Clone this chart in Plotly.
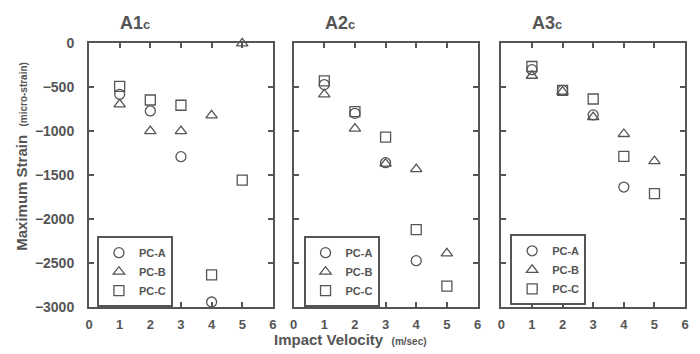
import plotly.graph_objects as go

velocity = [1, 2, 3, 4, 5]
panels = ["A1", "A2", "A3"]
series_names = ["PC-A", "PC-B", "PC-C"]

# Maximum strain values (micro-strain) per panel and series
a1_pca = [-580, -770, -1290, -2945, None]
a1_pcb = [-695, -1000, -1000, -820, 0]
a1_pcc = [-490, -645, -705, -2637, -1558]

a2_pca = [-470, -797, -1359, -2474, None]
a2_pcb = [-580, -970, -1370, -1431, -2391]
a2_pcc = [-427, -778, -1068, -2120, -2764]

a3_pca = [-300, -536, -815, -1636, None]
a3_pcb = [-369, -550, -840, -1032, -1341]
a3_pcc = [-264, -536, -634, -1286, -1710]

data = [[a1_pca, a1_pcb, a1_pcc], [a2_pca, a2_pcb, a2_pcc], [a3_pca, a3_pcb, a3_pcc]]
symbols = ["circle-open", "triangle-up-open", "square-open"]

W, H = 700, 354
col = "#555555"
font_fam = "Liberation Sans Narrow, Arial Narrow, Liberation Sans, Arial, sans-serif"

fig = go.Figure()
xdom = [(86, 272), (293, 479), (503, 689)]
ydom = ((H - 313) / H, (H - 37) / H)
legend_pos = [(94, 239), (303, 239), (512, 237)]

layout = dict(
    width=W, height=H, margin=dict(l=0, r=0, t=0, b=0),
    plot_bgcolor="white", paper_bgcolor="white",
    font=dict(family=font_fam, color=col, size=13),
    annotations=[],
)

for i in range(3):
    ax = "" if i == 0 else str(i + 1)
    lg = "legend" if i == 0 else "legend" + str(i + 1)
    for j in range(3):
        ys = data[i][j]
        xs = [v for v, y in zip(velocity, ys) if y is not None]
        yv = [y for y in ys if y is not None]
        fig.add_trace(go.Scatter(
            x=xs, y=yv, mode="markers", name=series_names[j],
            marker=dict(symbol=symbols[j], size=10,
                        color=col, line=dict(width=1.3, color=col)),
            xaxis="x" + ax, yaxis="y" + ax, legend=lg, cliponaxis=False,
        ))
    layout["xaxis" + ax] = dict(
        domain=[xdom[i][0] / W, xdom[i][1] / W], range=[0, 6], anchor="y" + ax,
        tickvals=[0, 1, 2, 3, 4, 5, 6], ticks="inside", ticklen=5, tickwidth=1.5,
        tickcolor=col, showline=True, linewidth=2, linecolor=col, mirror="ticks",
        showgrid=False, zeroline=False, ticklabelstandoff=5,
        tickfont=dict(family=font_fam, size=13, color=col, weight="bold"),
    )
    layout["yaxis" + ax] = dict(
        domain=list(ydom), range=[-3000, 0], anchor="x" + ax,
        tickvals=[0, -500, -1000, -1500, -2000, -2500, -3000],
        ticks="inside", ticklen=5, tickwidth=1.5, tickcolor=col,
        showline=True, linewidth=2, linecolor=col, mirror="ticks",
        showgrid=False, zeroline=False, showticklabels=(i == 0),
        ticklabelstandoff=10,
        tickfont=dict(family=font_fam, size=14, color=col, weight="bold"),
    )
    lx, ly = legend_pos[i]
    layout[lg] = dict(
        x=lx / W, y=(H - ly) / H, xanchor="left", yanchor="top",
        bordercolor=col, borderwidth=2, bgcolor="white",
        font=dict(family=font_fam, size=11, color=col, weight="bold"),
        tracegroupgap=0, itemwidth=30,
    )
    layout["annotations"].append(dict(
        x=1.5, y=(H - 16) / H, xref="x" + ax, yref="paper",
        text="<b>" + panels[i] + "<span style='font-size:13px'>c</span></b>",
        showarrow=False, font=dict(family=font_fam, size=18, color=col),
        xanchor="center", yanchor="middle",
    ))

layout["annotations"].append(dict(
    x=18 / W, y=(H - 155) / H, xref="paper", yref="paper", textangle=-90,
    text="<b>Maximum Strain</b>  <b><span style='font-size:10px'>(micro-strain)</span></b>",
    showarrow=False, font=dict(family=font_fam, size=15, color=col),
    xanchor="center", yanchor="middle",
))
layout["annotations"].append(dict(
    x=350 / W, y=0, xref="paper", yref="paper",
    text="<b>Impact Velocity</b>  <b><span style='font-size:10px'>(m/sec)</span></b>",
    showarrow=False, font=dict(family=font_fam, size=15, color=col),
    xanchor="center", yanchor="bottom", yshift=-4,
))

fig.update_layout(**layout)
fig.write_html("out.html")
